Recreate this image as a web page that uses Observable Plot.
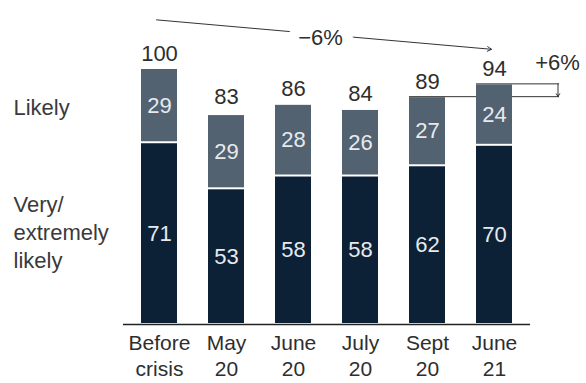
<!DOCTYPE html>
<html><head><meta charset="utf-8">
<script src="https://cdn.jsdelivr.net/npm/d3@7"></script>
<script src="https://cdn.jsdelivr.net/npm/@observablehq/plot@0.6"></script>
<style>body{margin:0;background:#fff}</style>
</head><body><div id="chart"></div>
<script>
const categories = ["Before crisis","May 20","June 20","July 20","Sept 20","June 21"];
const tickLabels = ["Before\ncrisis","May\n20","June\n20","July\n20","Sept\n20","June\n21"];
const veryLikely = [71,53,58,58,62,70];
const likely = [29,29,28,26,27,24];
const totals = [100,83,86,84,89,94];
const seriesNames = ["Very/extremely likely","Likely"];
const seriesLabels = ["Very/\nextremely\nlikely","Likely"];
const changeLabels = ["\u22126%","+6%"];
// annotation levels (in chart units)
const trendStart = 119, trendEnd = 107.5, trendLabelY = 112.1, bracketLabelY = 102.3;

const rows = categories.flatMap((c, i) => [
  {cat: c, series: seriesNames[0], value: veryLikely[i]},
  {cat: c, series: seriesNames[1], value: likely[i]}
]);
const seriesRows = seriesNames.map((s, k) => ({
  label: seriesLabels[k],
  y: k === 0 ? veryLikely[0] / 2 + 1 : veryLikely[0] + likely[0] / 2
}));
const navy = "#0d2136", slate = "#526270", ink = "#2e2e2e";
const font = "'Liberation Sans', Arial, sans-serif";

const chart = Plot.plot({
  width: 586, height: 383,
  marginLeft: 123, marginRight: 56, marginTop: 68, marginBottom: 59,
  style: {fontFamily: font, fontSize: "22px", color: ink, background: "#fff", overflow: "visible"},
  x: {domain: categories, paddingInner: 0.47, paddingOuter: 0.228},
  y: {domain: [0, 100], axis: null},
  color: {domain: seriesNames, range: [navy, slate]},
  marks: [
    Plot.tickY([{cat: categories[4], y: totals[4]}], {x: "cat", y: "y", insetRight: -114, stroke: "#333", strokeWidth: 1}),
    Plot.tickY([{cat: categories[5], y: totals[5]}], {x: "cat", y: "y", insetRight: -47, stroke: "#333", strokeWidth: 1}),
    Plot.barY(rows, {x: "cat", y: "value", fill: "series", insetTop: 1, insetBottom: 1}),
    Plot.text(rows, Plot.stackY({x: "cat", y: "value", z: "series", text: d => String(d.value), fill: "#e6eaee", fontSize: 22})),
    Plot.text(categories, {x: d => d, y: (d, i) => totals[i], text: (d, i) => String(totals[i]), dy: -8, lineAnchor: "bottom", fill: ink, fontSize: 22}),
    Plot.text(seriesRows, {y: "y", text: "label", frameAnchor: "left", dx: -110, textAnchor: "start", lineHeight: 1.27, fill: "#3a3a3a", fontSize: 22}),
    Plot.ruleY([0], {stroke: "#222", strokeWidth: 1.3}),
    Plot.axisX({tickSize: 0, tickPadding: 8, tickFormat: d => tickLabels[categories.indexOf(d)], fontSize: 21, lineHeight: 1.2, fill: ink, label: null}),
    Plot.arrow([{a: categories[0], b: categories[5]}], {x1: "a", x2: "b", y1: () => trendStart, y2: () => trendEnd, dx: -3, stroke: "#333", strokeWidth: 1, headLength: 7, bend: 0}),
    Plot.text([changeLabels[0]], {x: () => categories[2], y: () => trendLabelY, dx: 27, text: d => d, fill: ink, stroke: "white", strokeWidth: 22, paintOrder: "stroke", fontSize: 22}),
    Plot.arrow([{a: categories[5]}], {x1: "a", x2: "a", y1: () => totals[5], y2: () => totals[4], dx: 63.5, stroke: "#333", strokeWidth: 1, headLength: 5, bend: 0}),
    Plot.text([changeLabels[1]], {x: () => categories[5], y: () => bracketLabelY, dx: 63, text: d => d, fill: ink, fontSize: 22})
  ]
});
document.getElementById("chart").append(chart);
</script>
</body></html>
